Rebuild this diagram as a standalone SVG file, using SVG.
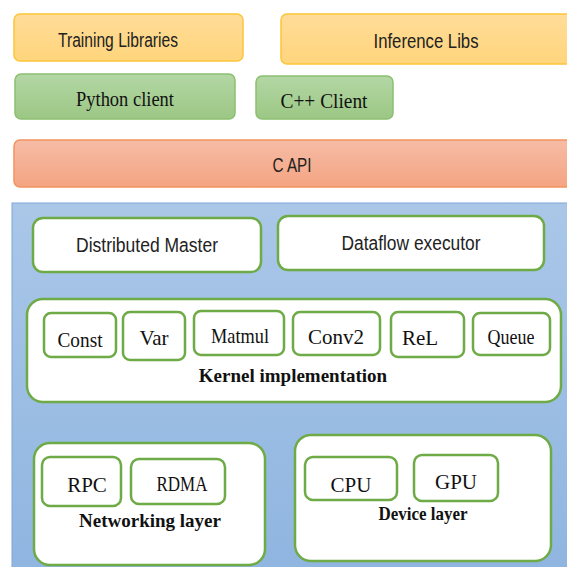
<svg xmlns="http://www.w3.org/2000/svg" width="567" height="567" viewBox="0 0 567 567">
<defs>
<linearGradient id="gy" x1="0" y1="0" x2="0" y2="1"><stop offset="0" stop-color="#ffdc98"/><stop offset="1" stop-color="#ffd57c"/></linearGradient>
<linearGradient id="gg" x1="0" y1="0" x2="0" y2="1"><stop offset="0" stop-color="#b3d7a5"/><stop offset="1" stop-color="#9cc784"/></linearGradient>
<linearGradient id="go" x1="0" y1="0" x2="0" y2="1"><stop offset="0" stop-color="#f6bca6"/><stop offset="1" stop-color="#f4a482"/></linearGradient>
<linearGradient id="gb" x1="0" y1="0" x2="0" y2="1"><stop offset="0" stop-color="#aac7e8"/><stop offset="1" stop-color="#8fb5e0"/></linearGradient>
<style>
.y{fill:url(#gy);stroke:#fcc53a;stroke-width:1.5}
.g{fill:url(#gg);stroke:#8cc070;stroke-width:1.5}
.o{fill:url(#go);stroke:#f3925f;stroke-width:1.5}
.w{fill:#fff;stroke:#6eab46;stroke-width:2.5}
.sn{font-family:"Liberation Sans",sans-serif;font-size:20px;fill:#222;text-anchor:middle}
.sr{font-family:"Liberation Serif",serif;font-size:21px;fill:#111;text-anchor:middle}
.sb{font-family:"Liberation Serif",serif;font-size:19px;font-weight:bold;fill:#111;text-anchor:middle}
</style>
</defs>
<g id="training"><rect class="y" x="14" y="14" width="229" height="47" rx="6"/><text class="sn" x="118" y="47" textLength="120" lengthAdjust="spacingAndGlyphs">Training Libraries</text></g>
<g id="inference"><rect class="y" x="281" y="14" width="294" height="50" rx="6"/><text class="sn" x="426" y="48" textLength="105" lengthAdjust="spacingAndGlyphs">Inference Libs</text></g>
<g id="python"><rect class="g" x="15" y="74" width="220" height="45" rx="6"/><text class="sr" x="125" y="106" textLength="98" lengthAdjust="spacingAndGlyphs">Python client</text></g>
<g id="cpp"><rect class="g" x="256" y="76" width="137" height="43" rx="6"/><text class="sr" x="324" y="108" textLength="87" lengthAdjust="spacingAndGlyphs">C++  Client</text></g>
<g id="capi"><rect class="o" x="14" y="140" width="560" height="47" rx="6"/><text class="sn" x="292" y="172" textLength="39" lengthAdjust="spacingAndGlyphs">C API</text></g>
<g id="runtime"><rect x="12" y="203" width="560" height="370" fill="url(#gb)" stroke="#7ea6d8" stroke-width="1"/></g>
<g id="master"><rect class="w" x="33" y="218" width="228" height="54" rx="10"/><text class="sn" x="147" y="252" textLength="142" lengthAdjust="spacingAndGlyphs">Distributed Master</text></g>
<g id="dataflow"><rect class="w" x="278" y="216" width="266" height="54" rx="10"/><text class="sn" x="411" y="250" textLength="139" lengthAdjust="spacingAndGlyphs">Dataflow executor</text></g>
<g id="kernel"><rect class="w" x="27" y="299" width="534" height="103" rx="16"/><text class="sb" x="293" y="382">Kernel implementation</text>
<g id="const"><rect class="w" x="44" y="313" width="72" height="44" rx="7"/><text class="sr" x="80" y="347" textLength="45" lengthAdjust="spacingAndGlyphs">Const</text></g>
<g id="var"><rect class="w" x="123" y="312" width="62" height="48" rx="7"/><text class="sr" x="154" y="345">Var</text></g>
<g id="matmul"><rect class="w" x="194" y="311" width="90" height="44" rx="7"/><text class="sr" x="240" y="343" textLength="58" lengthAdjust="spacingAndGlyphs">Matmul</text></g>
<g id="conv2"><rect class="w" x="293" y="312" width="87" height="43" rx="7"/><text class="sr" x="336" y="344">Conv2</text></g>
<g id="relu"><rect class="w" x="391" y="312" width="73" height="45" rx="7"/><text class="sr" x="420" y="345">ReL</text></g>
<g id="queue"><rect class="w" x="473" y="313" width="77" height="42" rx="7"/><text class="sr" x="511" y="344" textLength="47" lengthAdjust="spacingAndGlyphs">Queue</text></g>
</g>
<g id="networking"><rect class="w" x="34" y="443" width="231" height="122" rx="16"/><text class="sb" x="150" y="527">Networking layer</text>
<g id="rpc"><rect class="w" x="42" y="457" width="79" height="49" rx="8"/><text class="sr" x="87" y="492">RPC</text></g>
<g id="rdma"><rect class="w" x="131" y="459" width="94" height="45" rx="8"/><text class="sr" x="182" y="491" textLength="51" lengthAdjust="spacingAndGlyphs">RDMA</text></g>
</g>
<g id="device"><rect class="w" x="295" y="435" width="256" height="126" rx="16"/><text class="sb" x="423" y="520" textLength="89" lengthAdjust="spacingAndGlyphs">Device layer</text>
<g id="cpu"><rect class="w" x="305" y="457" width="92" height="43" rx="8"/><text class="sr" x="351" y="492">CPU</text></g>
<g id="gpu"><rect class="w" x="414" y="455" width="84" height="46" rx="8"/><text class="sr" x="456" y="489">GPU</text></g>
</g>
<g id="connectors"></g>
</svg>
